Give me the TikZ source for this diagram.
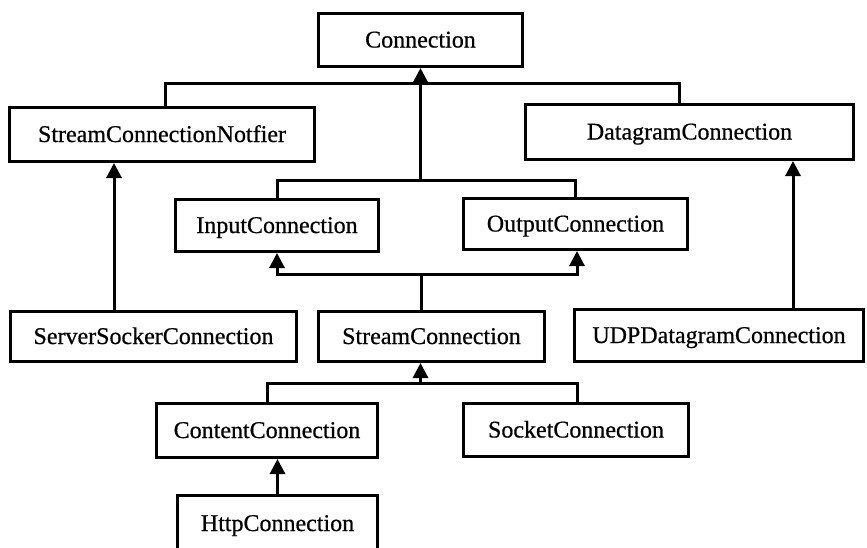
\documentclass[tikz,border=0pt]{standalone}
\usepackage{fontspec}
\setmainfont{Liberation Serif}
\newfontfamily\labelfont{Liberation Serif}[FakeBold=0.6]
\usetikzlibrary{arrows.meta}

\tikzset{
  cls/.style={draw, line width=3pt, inner sep=0pt,
    font=\labelfont\fontsize{24}{24}\selectfont, text height=17pt, text depth=2pt},
  wire/.style={line width=3pt},
  arr/.style={wire, -{Triangle[length=15pt,width=15pt]}}
}

\begin{document}
\begin{tikzpicture}[x=1pt,y=-1pt]
\clip (0,0) rectangle (867,547);
\fill[white] (0,0) rectangle (867,547);

% class boxes
\node[cls, minimum width=204, minimum height=53] (conn) at (420.5,40)    {Connection};
\node[cls, minimum width=305, minimum height=54] (scn)  at (162,134.5)   {StreamConnectionNotfier};
\node[cls, minimum width=328, minimum height=55] (dgc)  at (689.5,132)   {DatagramConnection};
\node[cls, minimum width=203, minimum height=52] (inp)  at (277,225.5)   {InputConnection};
\node[cls, minimum width=224, minimum height=51] (outc) at (575.5,224)   {OutputConnection};
\node[cls, minimum width=286, minimum height=50] (ssc)  at (153.5,336.5) {ServerSockerConnection};
\node[cls, minimum width=226, minimum height=50] (stc)  at (431.5,336.5) {StreamConnection};
\node[cls, minimum width=289, minimum height=52] (udp)  at (719,335.5)   {UDPDatagramConnection};
\node[cls, minimum width=221, minimum height=54] (cnt)  at (267,430.5)   {ContentConnection};
\node[cls, minimum width=225, minimum height=53] (sck)  at (576,430)     {SocketConnection};
\node[cls, minimum width=200, minimum height=56] (http) at (277.5,523.5) {HttpConnection};

% junction points of the shared buses
\coordinate (topmid) at (420.5,182);
\coordinate (iobus)  at (421,274);
\coordinate (lowbus) at (420.5,385);

% Connection and its direct subtypes
\draw[wire] ([xshift=3pt]scn.north) -- ++(0,-23) -| ([xshift=-10.5pt]dgc.north);
\draw[wire] (inp.north) -- ++(0,-17.5) -| (outc.north);
\draw[arr] (topmid) -- (conn.south);

% single inheritance arrows
\draw[arr] ([xshift=-39.5pt]ssc.north) -- ([xshift=-39.5pt]ssc.north |- scn.south);
\draw[arr] ([xshift=74pt]udp.north) -- ([xshift=74pt]udp.north |- dgc.south);
\draw[arr] (http.north) -- (http.north |- cnt.south);

% StreamConnection extends InputConnection and OutputConnection
\draw[wire] ([xshift=-10.5pt]stc.north) -- (iobus);
\draw[arr] (iobus) -| (inp.south);
\draw[arr] (iobus) -| ([xshift=1.5pt]outc.south);

% subtypes of StreamConnection
\draw[wire] (cnt.north) -- ++(0,-18.5) -| ([xshift=1pt]sck.north);
\draw[arr] (lowbus) -- (lowbus |- stc.south);
\end{tikzpicture}
\end{document}
